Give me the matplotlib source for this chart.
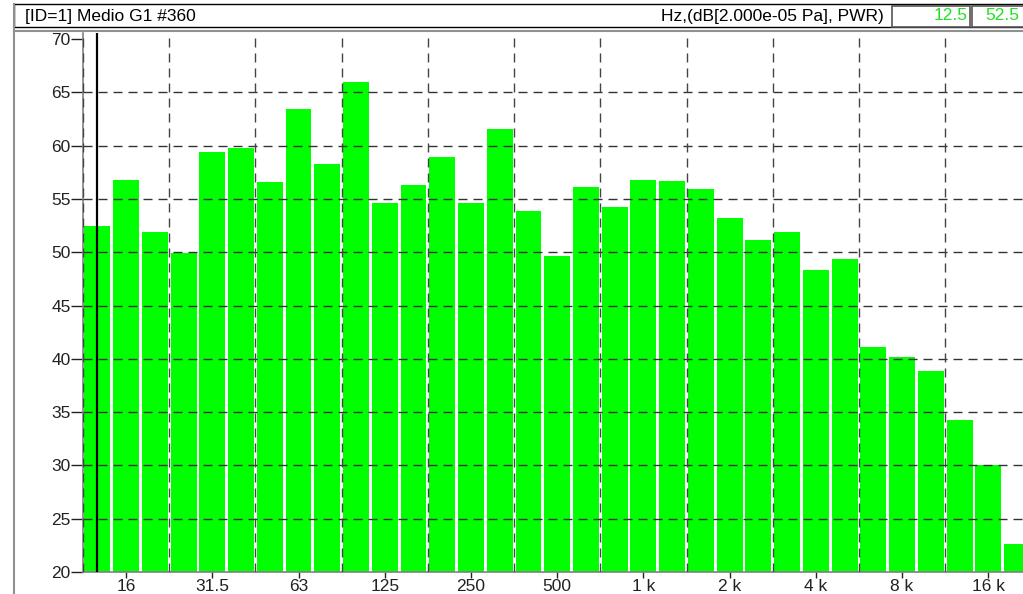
import matplotlib
matplotlib.use("Agg")
import matplotlib.pyplot as plt
from matplotlib.patches import Rectangle
from matplotlib.lines import Line2D

# third-octave bands 12.5 Hz .. 20 kHz
bands = ["12.5", "16", "20", "25", "31.5", "40", "50", "63", "80", "100",
         "125", "160", "200", "250", "315", "400", "500", "630", "800", "1 k",
         "1.25 k", "1.6 k", "2 k", "2.5 k", "3.15 k", "4 k", "5 k", "6.3 k",
         "8 k", "10 k", "12.5 k", "16 k", "20 k"]
levels = [52.5, 56.8, 51.9, 49.9, 59.4, 59.8, 56.6, 63.4, 58.3, 66.0,
          54.6, 56.3, 58.9, 54.6, 61.6, 53.9, 49.6, 56.1, 54.2, 56.8,
          56.7, 55.9, 53.2, 51.1, 51.9, 48.3, 49.4, 41.1, 40.2, 38.9,
          34.3, 30.0, 22.6]
tick_labels = ["16", "31.5", "63", "125", "250", "500", "1 k", "2 k", "4 k", "8 k", "16 k"]
y_ticks = [20, 25, 30, 35, 40, 45, 50, 55, 60, 65, 70]
cursor_band = "12.5"
cursor_value = "52.5"

W, H = 1023, 594
plt.rcParams["font.family"] = ["Liberation Sans", "DejaVu Sans"]
FS = 12.5

fig = plt.figure(figsize=(W / 100, H / 100), dpi=100)


def fx(x):
    return x / W


def fy(y):
    return 1 - y / H


# plot area in pixels
left_px, top_px, bottom_px = 83, 33, 572
slot_px = 28.74
ax = fig.add_axes([fx(left_px), fy(bottom_px),
                   len(bands) * slot_px / W, (bottom_px - top_px) / H])

x = list(range(len(bands)))
ax.bar(x, levels, width=0.9, color="#00ff00", zorder=1)
ax.set_xlim(-0.5, len(bands) - 0.5)
ax.set_ylim(20, 20 + (bottom_px - top_px) / 10.66)

# grids (drawn on top of bars)
dash = (0, (6.5, 4.3))
for v in y_ticks[1:-1]:
    ax.axhline(v, color="#333333", lw=1.0, ls=dash, zorder=3)
for k in range(0, len(bands) + 1, 3):
    ax.axvline(k - 0.5, color="#444444", lw=1.0, ls=dash, zorder=3)

# cursor
ax.axvline(bands.index(cursor_band), color="black", lw=1.6, zorder=4)

tick_pos = [bands.index(t) for t in tick_labels]
ax.set_xticks(tick_pos)
ax.set_xticklabels(tick_labels, fontsize=FS)
ax.set_yticks(y_ticks)
ax.set_yticklabels([str(v) for v in y_ticks], fontsize=FS)
ax.tick_params(axis="y", direction="out", length=9, width=1, pad=0, colors="#222222")
ax.tick_params(axis="x", direction="out", length=4, width=1, pad=1, colors="#222222")

for s in ["top", "right"]:
    ax.spines[s].set_visible(False)
for s in ["left", "bottom"]:
    ax.spines[s].set_color("#808080")
    ax.spines[s].set_linewidth(1.2)

# header bar
fig.add_artist(Rectangle((fx(14), fy(27)), fx(1040 - 14), (27 - 4) / H,
                         transform=fig.transFigure, facecolor="white",
                         edgecolor="black", lw=1.0))
fig.text(fx(25), fy(16), "[ID=1] Medio G1 #360", fontsize=FS, va="center", ha="left")
fig.text(fx(884), fy(16), "Hz,(dB[2.000e-05 Pa], PWR)", fontsize=FS,
         va="center", ha="right")
fig.add_artist(Rectangle((fx(892), fy(27)), fx(970 - 892), (27 - 6) / H,
                         transform=fig.transFigure, facecolor="white",
                         edgecolor="#555555", lw=1.2))
fig.add_artist(Rectangle((fx(972), fy(27)), fx(1060 - 972), (27 - 6) / H,
                         transform=fig.transFigure, facecolor="white",
                         edgecolor="#555555", lw=1.2))
fig.text(fx(968), fy(16), cursor_band, fontsize=FS, color="#22e022",
         va="center", ha="right")
fig.text(fx(1019), fy(16), cursor_value, fontsize=FS, color="#22e022",
         va="center", ha="right")

# panel borders
fig.add_artist(Line2D([fx(14), fx(1023)], [fy(31), fy(31)],
                      transform=fig.transFigure, color="#909090", lw=1.5))
fig.add_artist(Line2D([fx(14), fx(14)], [fy(4), fy(594)],
                      transform=fig.transFigure, color="#909090", lw=1.5))

fig.savefig("out.png", dpi=100)
